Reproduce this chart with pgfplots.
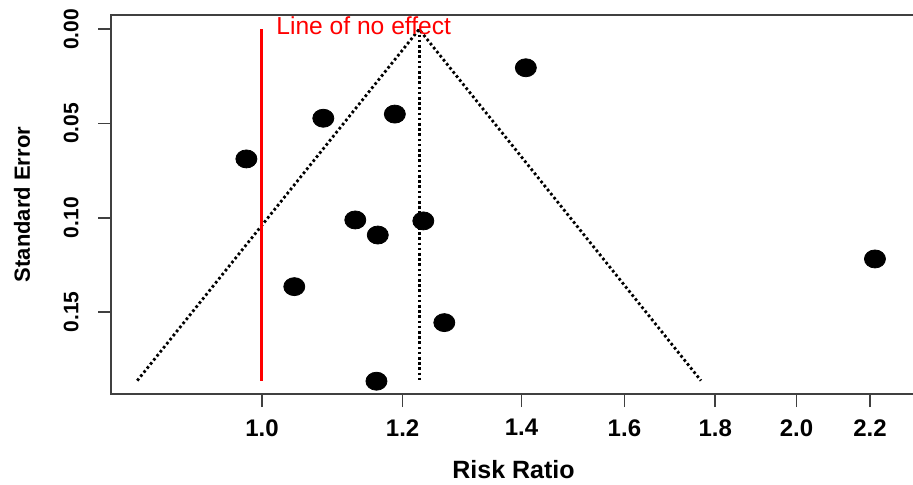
\documentclass[border=0pt]{standalone}
\usepackage{fontspec}
\setmainfont{Liberation Sans}
\usepackage{pgfplots}
\pgfplotsset{compat=1.18}
\begin{document}
\begin{tikzpicture}
\begin{axis}[
  scale only axis,
  width=402.5pt, height=189.5pt,
  xmode=log,
  xmin=0.8222, xmax=2.335,
  ymin=-0.0076, ymax=0.1936,
  y dir=reverse,
  xtick={1.0,1.2,1.4,1.6,1.8,2.0,2.2},
  xticklabels={1.0,1.2,1.4,1.6,1.8,2.0,2.2},
  minor xtick={},
  ytick={0,0.05,0.10,0.15},
  yticklabels={0.00,0.05,0.10,0.15},
  xtick pos=bottom, ytick pos=left,
  tick align=outside,
  major tick length=6.5pt,
  axis line style={black!75, line width=0.9pt},
  every tick/.style={black!75, line width=0.9pt},
  /pgf/number format/assume math mode=true,
  xticklabel style={font=\fontsize{12}{14}\selectfont\bfseries, anchor=north, inner sep=0pt, yshift=-6pt},
  yticklabel style={font=\fontsize{10.5}{12}\selectfont\bfseries, rotate=90, anchor=south, inner sep=0pt, yshift=9.5pt},
  xlabel={Risk Ratio},
  ylabel={Standard Error},
  xlabel style={font=\fontsize{12.5}{14}\selectfont\bfseries, at={(axis description cs:0.5,0)}, anchor=base, yshift=-42pt, inner sep=0pt},
  ylabel style={font=\fontsize{11}{13}\selectfont\bfseries, at={(axis description cs:0,0.5)}, anchor=center, rotate=0, xshift=0pt, yshift=44.5pt, inner sep=0pt},
  clip=false,
]
% funnel
\addplot[black, line width=1.4pt, dash pattern=on 1.3pt off 1.3pt] coordinates {(0.8507,0.1865) (1.226,0) (1.7671,0.1865)};
\addplot[black, line width=1.4pt, dash pattern=on 1.3pt off 1.3pt] coordinates {(1.226,0) (1.226,0.1865)};
% line of no effect
\addplot[red, line width=1.5pt] coordinates {(1,0) (1,0.1865)};
\node[red, anchor=base west, inner sep=0pt, font=\fontsize{12.3}{14}\selectfont] at (axis cs:1.0,0.003) [xshift=7pt] {Line of no effect};
% studies
\addplot[only marks, mark=*, mark size=4.5pt, mark options={xscale=1.17, fill=black, draw=black}] coordinates {
(1.408,0.0204)
(1.0828,0.0472)
(1.188,0.0450)
(0.980,0.0688)
(1.1286,0.1012)
(1.162,0.1092)
(1.2327,0.1017)
(1.0428,0.1366)
(1.2667,0.1557)
(1.160,0.1868)
(2.214,0.1219)
};
\end{axis}
\pgfresetboundingbox
\path ([shift={(-55.5pt,-45pt)}]current axis.south west) rectangle ([shift={(-1.5pt,7.5pt)}]current axis.north east);
\end{tikzpicture}
\end{document}
